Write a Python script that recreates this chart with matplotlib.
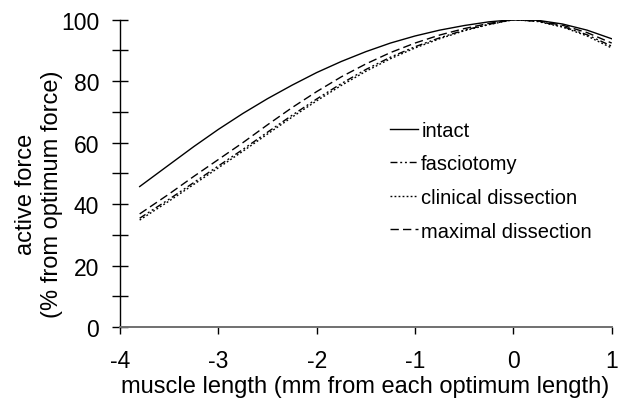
import matplotlib
matplotlib.use("Agg")
import matplotlib.pyplot as plt
from matplotlib.ticker import MultipleLocator

# muscle length (mm from optimum) and active force (% of optimum)
length = [-3.8, -3.5, -3.25, -3.0, -2.75, -2.5, -2.25, -2.0, -1.75, -1.5,
          -1.25, -1.0, -0.75, -0.5, -0.25, 0.0, 0.25, 0.5, 0.75, 1.0]
intact = [45.7, 52.8, 58.7, 64.3, 69.5, 74.3, 78.7, 82.8, 86.4, 89.6,
          92.4, 94.7, 96.6, 98.1, 99.3, 100.0, 99.8, 98.6, 96.6, 93.8]
fasciotomy = [35.4, 41.6, 47.0, 52.4, 57.8, 63.4, 68.9, 74.2, 79.2, 83.8,
              87.8, 91.2, 94.1, 96.6, 98.5, 100.0, 99.5, 97.8, 95.1, 91.4]
clinical = [34.8, 41.0, 46.4, 51.8, 57.2, 62.8, 68.3, 73.6, 78.6, 83.2,
            87.3, 90.8, 93.8, 96.4, 98.4, 100.0, 99.4, 97.6, 94.7, 90.8]
maximal = [36.8, 43.3, 49.0, 54.5, 60.0, 65.8, 71.4, 76.6, 81.4, 85.6,
           89.3, 92.4, 95.0, 97.1, 98.8, 100.0, 99.6, 98.2, 95.8, 92.4]

x_ticks = [-4, -3, -2, -1, 0, 1]
y_ticks = [0, 20, 40, 60, 80, 100]

plt.rcParams['font.family'] = ['Liberation Sans', 'DejaVu Sans']

W, H = 626, 402
fig = plt.figure(figsize=(W / 100, H / 100), dpi=100)
ax = fig.add_axes([120 / W, 1 - 328 / H, 491.7 / W, 307.3 / H])

lw = 1.0
ax.plot(length, intact, color='black', lw=lw, label='intact')
ax.plot(length, fasciotomy, color='black', lw=lw, dashes=(5, 2, 1.4, 2, 1.4, 2), label='fasciotomy')
ax.plot(length, clinical, color='black', lw=lw, dashes=(1.3, 1.6), label='clinical dissection')
ax.plot(length, maximal, color='black', lw=lw, dashes=(6, 3), label='maximal dissection')

ax.set_xlim(-4, 1)
ax.set_ylim(0, 100)
ax.set_xticks(x_ticks)
ax.set_xticklabels([str(t) for t in x_ticks])
ax.set_yticks(y_ticks)
ax.yaxis.set_minor_locator(MultipleLocator(10))

for s in ['top', 'right']:
    ax.spines[s].set_visible(False)
ax.spines['left'].set_linewidth(1.0)
ax.spines['bottom'].set_linewidth(1.4)
ax.spines['bottom'].set_color('#707070')

ax.tick_params(axis='y', which='major', direction='inout', length=12, width=1, labelsize=16.5, pad=9)
ax.tick_params(axis='y', which='minor', direction='inout', length=12, width=1)
ax.tick_params(axis='x', which='major', direction='out', length=5, width=1, labelsize=16.5, pad=11)

fig.text(365.5 / W, 1 - 387 / H, 'muscle length (mm from each optimum length)',
         fontsize=17, ha='center', va='center')
fig.text(39 / W, 1 - 194.5 / H, 'active force\n(% from optimum force)', fontsize=17,
         rotation=90, ha='center', va='center', multialignment='center', linespacing=1.2)

leg = ax.legend(loc='upper left', bbox_to_anchor=(390 / W, 1 - 122 / H),
                bbox_transform=fig.transFigure, frameon=False, fontsize=14.5,
                handlelength=1.4, handletextpad=0.15, labelspacing=0.72,
                borderpad=0, borderaxespad=0)

fig.savefig('out.png', dpi=100)
